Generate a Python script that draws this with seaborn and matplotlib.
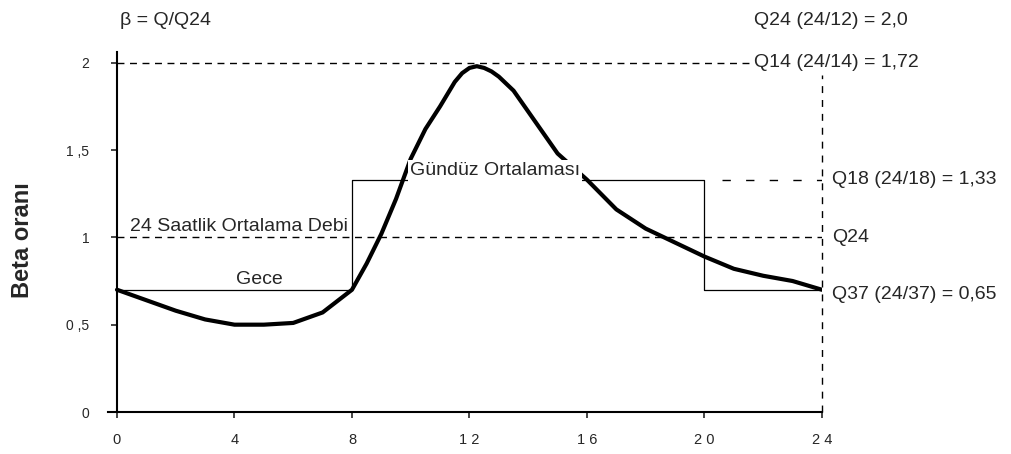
import numpy as np
import pandas as pd
import matplotlib
matplotlib.use("Agg")
import matplotlib.pyplot as plt
import seaborn as sns

# saatlik beta oranı (Q/Q24)
saat = [0, 1, 2, 3, 4, 5, 6, 7, 8, 8.5, 9, 9.5, 10, 10.5, 11, 11.5, 11.75, 12,
        12.25, 12.5, 12.75, 13, 13.5, 14, 14.5, 15, 16, 17, 18, 19, 20, 21, 22,
        23, 24]
beta = [0.70, 0.64, 0.58, 0.53, 0.50, 0.50, 0.51, 0.57, 0.70, 0.85, 1.02, 1.22,
        1.45, 1.62, 1.75, 1.89, 1.94, 1.97, 1.98, 1.97, 1.95, 1.92, 1.84, 1.72,
        1.60, 1.48, 1.33, 1.16, 1.05, 0.97, 0.89, 0.82, 0.78, 0.75, 0.70]

# gece / gündüz ortalamaları (basamak)
basamak_x = [0, 8, 8, 20, 20, 24]
basamak_y = [0.70, 0.70, 1.33, 1.33, 0.70, 0.70]

q14 = 2.0      # tepe
q18 = 1.33     # gündüz ortalaması
q24 = 1.0      # 24 saatlik ortalama
q37 = 0.67     # etiket konumu

x_ticks = [0, 4, 8, 12, 16, 20, 24]
x_labels = ["0", "4", "8", "1 2", "1 6", "2 0", "2 4"]
y_ticks = [0, 0.5, 1, 1.5, 2]
y_labels = ["0", "0 ,5", "1", "1 ,5", "2"]

df = pd.DataFrame({"saat": saat, "beta": beta})

sns.set_style("white")
plt.rcParams['font.family'] = ['Liberation Sans', 'DejaVu Sans']

fig = plt.figure(figsize=(10.11, 4.54), dpi=100)
ax = fig.add_axes([0.107, 0.0925, 0.706, 0.7925])

# eğri
sns.lineplot(data=df, x="saat", y="beta", ax=ax, color="black", linewidth=3.0, zorder=3)

# gece / gündüz kutusu
ax.plot(basamak_x, basamak_y, color="black", linewidth=0.9, zorder=2)

# kesikli çizgiler
ax.plot([0, 21.5], [q14, q14], color="black", linewidth=1.0, dashes=(5, 4), zorder=1)
ax.plot([0, 24], [q24, q24], color="black", linewidth=1.0, dashes=(5, 4), zorder=1)
ax.plot([20.6, 24], [q18, q18], color="black", linewidth=1.0, dashes=(6, 11), zorder=1)
ax.plot([24, 24], [0, 1.93], color="black", linewidth=1.0, dashes=(5, 5), zorder=1, clip_on=False)

fs = 14
ax.text(0.1, 2.24, "β = Q/Q24", fontsize=fs, ha="left", va="center")
ax.text(21.7, 2.24, "Q24 (24/12) = 2,0", fontsize=fs, ha="left", va="center")
ax.text(21.7, 2.0, "Q14 (24/14) = 1,72", fontsize=fs, ha="left", va="center")
ax.text(24.35, q18, "Q18 (24/18) = 1,33", fontsize=fs, ha="left", va="center")
ax.text(24.35, q24, "Q24", fontsize=fs, ha="left", va="center")
ax.text(24.35, q37, "Q37 (24/37) = 0,65", fontsize=fs, ha="left", va="center")
ax.text(4.86, 0.76, "Gece", fontsize=fs, ha="center", va="center")
ax.text(0.44, 1.06, "24 Saatlik Ortalama Debi", fontsize=fs, ha="left", va="center")
ax.text(9.97, 1.38, "Gündüz Ortalaması", fontsize=fs, ha="left", va="center", zorder=5,
        bbox=dict(facecolor="white", edgecolor="none", pad=1.5))

ax.set_xlim(-0.3, 24)
ax.set_ylim(0, 2.06)
ax.set_xticks(x_ticks)
ax.set_xticklabels(x_labels, fontsize=10.5)
ax.set_yticks(y_ticks)
ax.set_yticklabels(y_labels, fontsize=10.5)
ax.tick_params(axis="y", direction="out", length=4, width=1.2, pad=16, left=True)
ax.tick_params(axis="x", direction="out", length=4, width=1.2, pad=11, bottom=True)

ax.set_xlabel("")
ax.set_ylabel("")
fig.text(23 / 1011, 1 - 240 / 454, "Beta oranı", rotation=90, fontsize=17,
         fontweight="bold", ha="center", va="center")

sns.despine(ax=ax)
ax.spines["left"].set_position(("data", 0))
for s in ["left", "bottom"]:
    ax.spines[s].set_color("black")
    ax.spines[s].set_linewidth(1.5)

fig.savefig("out.png", dpi=100)
